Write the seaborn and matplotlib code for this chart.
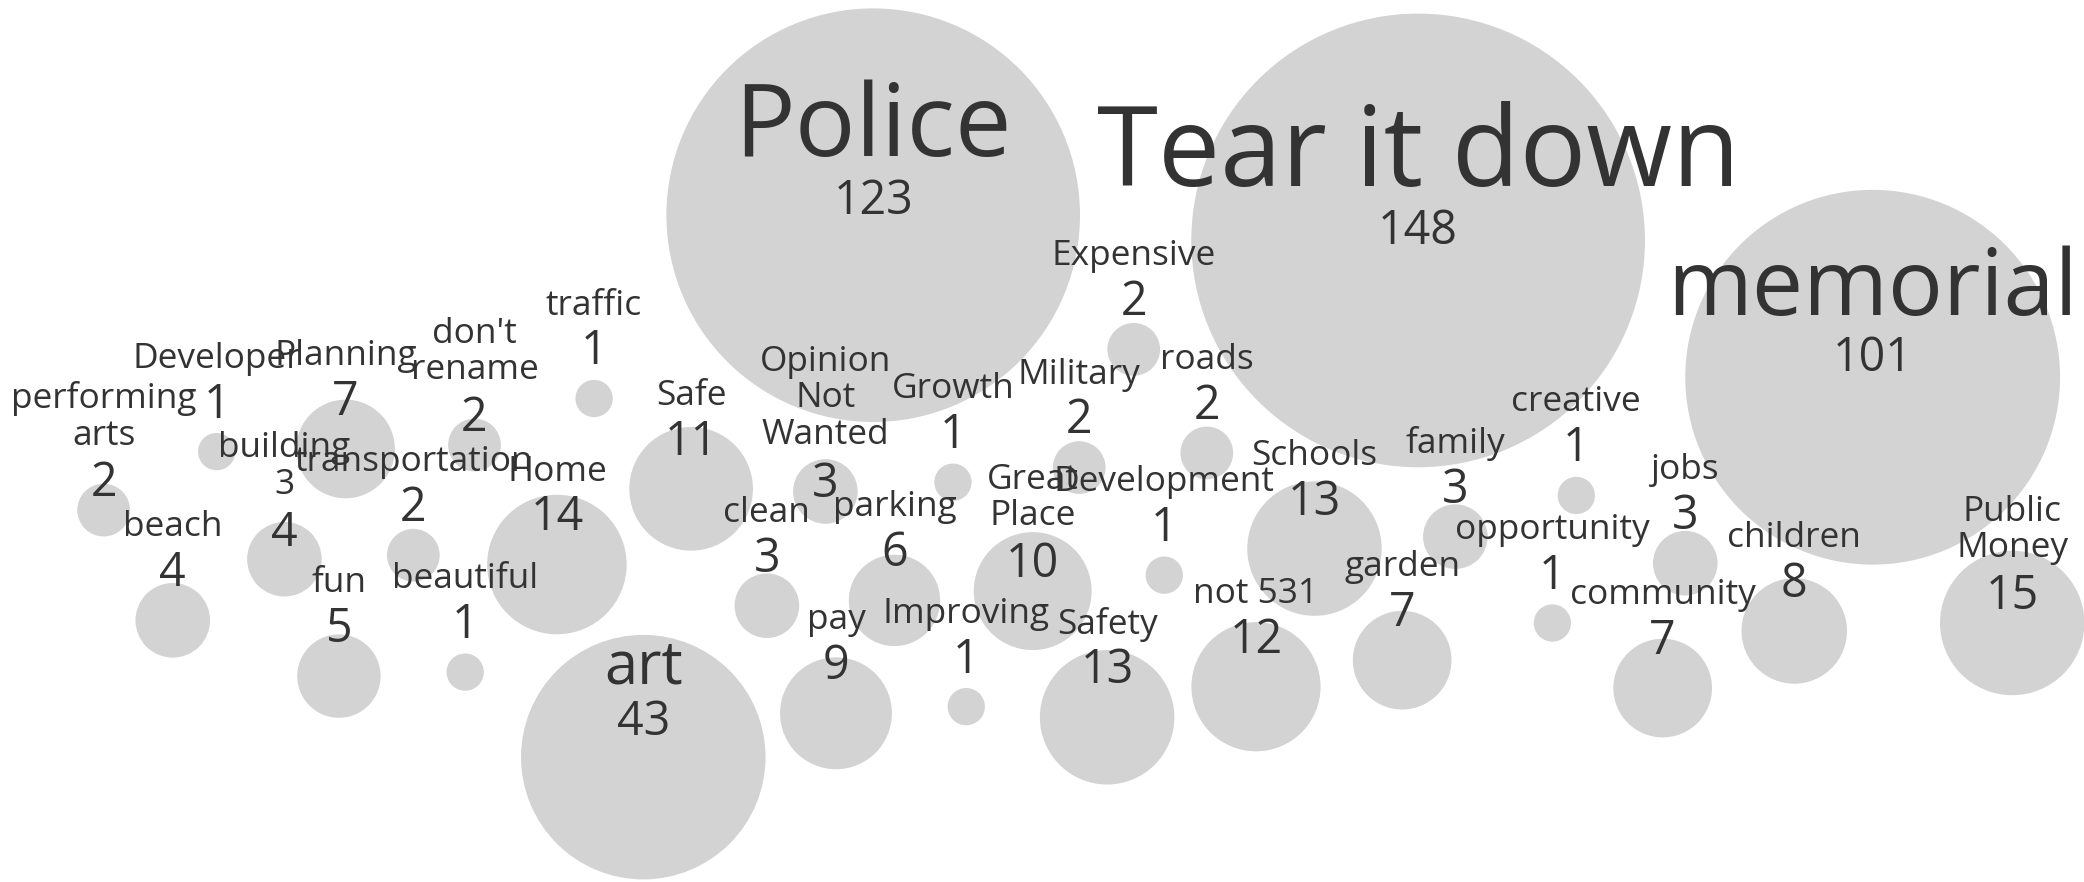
import numpy as np
import pandas as pd
import seaborn as sns
import matplotlib.pyplot as plt

# answers and how often they were given
labels = ["Police", "Tear it down", "memorial", "art", "Public\nMoney", "Home",
          "Schools", "Safety", "not 531", "Safe", "Great\nPlace", "pay",
          "children", "Planning", "garden", "community", "parking", "fun",
          "beach", "building\n3", "Opinion\nNot\nWanted", "clean", "family",
          "jobs", "performing\narts", "don't\nrename", "transportation",
          "Expensive", "Military", "roads", "Developer", "traffic",
          "beautiful", "Growth", "Improving", "Development", "creative",
          "opportunity"]
counts = [123, 148, 101, 43, 15, 14,
          13, 13, 12, 11, 10, 9,
          8, 7, 7, 7, 6, 5,
          4, 4, 3, 3, 3,
          3, 2, 2, 2,
          2, 2, 2, 1, 1,
          1, 1, 1, 1, 1,
          1]
# bubble centres as laid out in the picture
pos_x = [657, 1067, 1409, 484, 1514, 419,
         989, 833, 945, 520, 777, 629,
         1350, 260, 1055, 1251, 673, 255,
         130, 214, 621, 577, 1095,
         1268, 78, 357, 311,
         853, 812, 908, 163, 447,
         350, 717, 727, 876, 1186,
         1168]
pos_y = [162, 181, 284, 570, 469, 425,
         413, 540, 517, 368, 445, 537,
         475, 338, 497, 518, 452, 509,
         467, 421, 370, 456, 404,
         424, 384, 335, 418,
         263, 352, 341, 340, 300,
         506, 363, 532, 433, 373,
         469]

df = pd.DataFrame({"label": labels, "count": counts, "x": pos_x, "y": pos_y})

W, H = 1568, 664
fig = plt.figure(figsize=(20.84, 8.82), dpi=100)
ax = fig.add_axes([0, 0, 1, 1])

# bubble area proportional to count
k = 721
sns.scatterplot(data=df, x="x", y="y", size="count",
                sizes=(k * df["count"].min(), k * df["count"].max()),
                size_norm=(df["count"].min(), df["count"].max()),
                color="lightgray", linewidth=0, alpha=1, legend=False,
                ax=ax, zorder=1)

px2pt = 1.329 * 0.72
num_em = 35
for _, r in df.iterrows():
    em = max(26.5, 6.85 * np.sqrt(r["count"]))
    n = r["label"].count("\n") + 1
    lh = 1.08 * em if n > 1 else 1.0 * em
    ly = r["y"] - 70
    ax.text(r["x"], ly + 0.12 * (em - 26.5), r["label"], ha="center",
            va="center", fontsize=em * px2pt, color="#333333",
            family="Open Sans", linespacing=1.1, zorder=3)
    ny = ly + n * lh / 2 + num_em / 2 + 4
    ax.text(r["x"], ny, str(r["count"]), ha="center", va="center",
            fontsize=num_em * px2pt, color="#333333", family="Open Sans",
            zorder=3)

ax.set_xlim(0, W)
ax.set_ylim(H, 0)
ax.axis("off")
fig.savefig("out.png", dpi=100, facecolor="white")
